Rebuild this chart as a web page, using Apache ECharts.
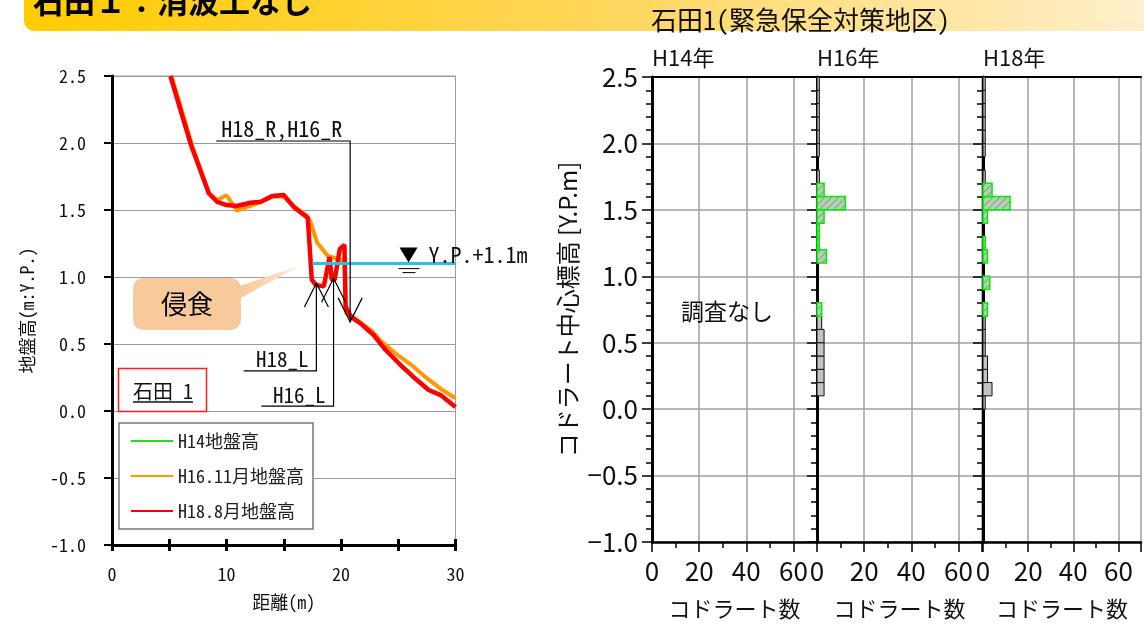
<!DOCTYPE html>
<html><head><meta charset="utf-8">
<script src="https://cdn.jsdelivr.net/npm/echarts@6/dist/echarts.min.js"></script>
<style>html,body{margin:0;padding:0;background:#fff}#c{width:1144px;height:627px}</style>
</head><body><div id="c"></div>
<script>
// ---------- DATA ----------
// Left chart: ground profile (distance m, elevation m Y.P.)
const distH14 = [];
const elevH14 = [];
const distH16 = [5.2, 7.0, 8.5, 9.2, 10.0, 10.9, 12.1, 13.0, 14.0, 15.0, 16.0, 17.0, 17.3, 17.9, 18.8, 19.5, 20.3, 20.45, 20.9, 21.7, 22.8, 23.4, 24.9, 26.2, 27.5, 28.8, 30.0];
const elevH16 = [2.50, 1.98, 1.62, 1.575, 1.61, 1.495, 1.53, 1.56, 1.60, 1.60, 1.52, 1.46, 1.42, 1.26, 1.16, 1.14, 1.12, 0.73, 0.71, 0.66, 0.59, 0.53, 0.42, 0.34, 0.245, 0.16, 0.095];
const distH18 = [5.1, 6.9, 8.45, 9.2, 10.0, 10.9, 12.1, 13.0, 14.0, 15.0, 15.9, 17.1, 17.45, 17.8, 18.5, 19.0, 19.2, 19.45, 19.9, 20.3, 20.4, 20.9, 21.7, 22.85, 23.9, 25.2, 26.3, 27.65, 28.7, 30.0];
const elevH18 = [2.50, 1.985, 1.625, 1.56, 1.537, 1.53, 1.554, 1.562, 1.604, 1.612, 1.52, 1.44, 0.98, 0.94, 0.93, 1.15, 0.98, 0.98, 1.21, 1.24, 0.78, 0.70, 0.654, 0.567, 0.455, 0.343, 0.256, 0.157, 0.119, 0.03];
const waterX = [17.5, 30];
const waterLevel = 1.1;
const profileNames = ['H14地盤高', 'H16.11月地盤高', 'H18.8月地盤高'];

// Right chart: quadrat counts per 0.1 m elevation bin (bin bottom)
const binBottom = [0.0,0.1,0.2,0.3,0.4,0.5,0.6,0.7,0.8,0.9,1.0,1.1,1.2,1.3,1.4,1.5,1.6,1.7,1.8,1.9,2.0,2.1,2.2,2.3,2.4];
const h16Bare = [0,3,3,3,3,3,2,0,0,0,0,0,0,0,0,0,0,1,0,1,1,1,1,1,1];
const h16Veg  = [0,0,0,0,0,0,0,2,0,0,0,4,1,1,3,12,3,0,0,0,0,0,0,0,0];
const h18Bare = [1,4,2,2,1,1,1,0,0,0,0,0,0,0,0,0,0,1,0,1,1,1,1,1,1];
const h18Veg  = [0,0,0,0,0,0,0,2,0,3,0,2,1,0,2,12,4,0,0,0,0,0,0,0,0];
const panelTitles = ['H14年', 'H16年', 'H18年'];
const xTickLabels = [0, 20, 40, 60];

// ---------- STYLE ----------
const MONO = "'Noto Sans Mono CJK JP','DejaVu Sans Mono',monospace";
const CJK = "'Noto Sans CJK JP','Noto Sans',sans-serif";
const NARROW = "'Liberation Sans Narrow','Noto Sans CJK JP',sans-serif";

const chart = echarts.init(document.getElementById('c'), null, {renderer: 'canvas'});

function hatch() {
  const c = document.createElement('canvas');
  c.width = 7; c.height = 7;
  const g = c.getContext('2d');
  g.fillStyle = '#c3c3c3'; g.fillRect(0, 0, 7, 7);
  g.strokeStyle = '#1fd31f'; g.lineWidth = 1;
  g.beginPath();
  g.moveTo(0, 7); g.lineTo(7, 0);
  g.moveTo(-1, 1); g.lineTo(1, -1);
  g.moveTo(6, 8); g.lineTo(8, 6);
  g.stroke();
  return c;
}
const hatchCanvas = hatch();

function bins(counts) {
  const out = [];
  counts.forEach((v, i) => { if (v > 0) out.push([v, binBottom[i]]); });
  return out;
}
function histSeries(name, counts, xi, yi, veg) {
  return {
    type: 'custom', name: name, xAxisIndex: xi, yAxisIndex: yi, z: 5,
    data: bins(counts),
    renderItem: function (params, api) {
      const c = api.value(0), b = api.value(1);
      const p0 = api.coord([0, b + 0.1]);
      const p1 = api.coord([c, b]);
      return {
        type: 'rect',
        shape: {x: p0[0], y: p0[1], width: p1[0] - p0[0], height: p1[1] - p0[1]},
        style: veg ? {fill: {image: hatchCanvas, repeat: 'repeat'}, stroke: '#00ee00', lineWidth: 1.5}
                   : {fill: '#c3c3c3', stroke: '#111', lineWidth: 1}
      };
    }
  };
}

const panelLefts = [652, 817, 983];
const grids = [{left: 112, top: 76, width: 343.5, height: 469, show: true, borderColor: '#9a9a9a', borderWidth: 1}];
panelLefts.forEach(l => grids.push({left: l, top: 77, width: 165, height: 465}));

const xAxes = [
  {gridIndex: 0, type: 'value', min: 0, max: 30, interval: 5, position: 'bottom',
   axisLine: {onZero: false, lineStyle: {color: '#000', width: 3}},
   axisTick: {length: 6, lineStyle: {color: '#000', width: 3}},
   axisLabel: {margin: 20, fontSize: 18, fontFamily: MONO, color: '#111', formatter: v => (v % 10 === 0 ? String(v) : '')},
   splitLine: {show: false},
   name: '距離(m)', nameLocation: 'middle', nameGap: 48, nameTextStyle: {fontSize: 18, fontFamily: MONO, color: '#111'}},
  {gridIndex: 0, type: 'value', min: 0, max: 30, interval: 5, position: 'bottom',
   axisLine: {show: false, onZero: false}, axisTick: {inside: true, length: 6, lineStyle: {color: '#000', width: 3}},
   axisLabel: {show: false}, splitLine: {show: false}}
];
const yAxes = [
  {gridIndex: 0, type: 'value', min: -1, max: 2.5, interval: 0.5,
   axisLine: {show: true, onZero: false, lineStyle: {color: '#000', width: 3}},
   axisTick: {show: true, length: 8, lineStyle: {color: '#000', width: 2}},
   axisLabel: {margin: 26, fontSize: 18, fontFamily: MONO, color: '#111', formatter: v => v.toFixed(1)},
   splitLine: {lineStyle: {color: '#9a9a9a', width: 1}},
   name: '地盤高(m:Y.P.)', nameLocation: 'middle', nameGap: 76, nameRotate: 90,
   nameTextStyle: {fontSize: 18, fontFamily: MONO, color: '#111'}}
];
panelLefts.forEach((l, i) => {
  const g = i + 1;
  xAxes.push({gridIndex: g, type: 'value', min: 0, max: 70, interval: 20, position: 'bottom',
    axisLine: {onZero: false, lineStyle: {color: '#000', width: 2.5}},
    axisTick: {length: 10, lineStyle: {color: '#000', width: 1.5}},
    axisLabel: {margin: 16, fontSize: 26, fontFamily: NARROW, color: '#111',
      formatter: v => (xTickLabels.indexOf(v) >= 0 ? String(v) : '')},
    splitLine: {show: true, lineStyle: {color: '#a0a0a0', width: 1.5}},
    name: 'コドラート数', nameLocation: 'middle', nameGap: 56,
    nameTextStyle: {fontSize: 22, fontFamily: CJK, color: '#111'}});
  xAxes.push({gridIndex: g, type: 'value', min: 0, max: 70, interval: 10, position: 'bottom',
    axisLine: {show: false, onZero: false}, axisTick: {length: 6, lineStyle: {color: '#000', width: 1.5}},
    axisLabel: {show: false}, splitLine: {show: false}});
  xAxes.push({gridIndex: g, type: 'value', min: 0, max: 70, interval: 20, position: 'top',
    axisLine: {onZero: false, lineStyle: {color: '#000', width: 2}}, axisTick: {show: false},
    axisLabel: {show: false}, splitLine: {show: false}});
  yAxes.push({gridIndex: g, type: 'value', min: -1, max: 2.5, interval: 0.5,
    axisLine: {show: true, onZero: false, lineStyle: {color: '#000', width: 3}},
    axisTick: {show: true, length: 10, lineStyle: {color: '#000', width: 1.5}},
    minorTick: {show: true, splitNumber: 5, length: 6, lineStyle: {color: '#000', width: 1.5}},
    axisLabel: {show: i === 0, margin: 14, fontSize: 26, fontFamily: NARROW, color: '#111',
      formatter: v => (v < 0 ? '\u2212' + Math.abs(v).toFixed(1) : v.toFixed(1))},
    splitLine: {lineStyle: {color: '#a0a0a0', width: 1.5}},
    name: i === 0 ? 'コドラート中心標高 [Y.P.m]' : '', nameLocation: 'middle', nameGap: 72, nameRotate: 90,
    nameTextStyle: {fontSize: 24, fontFamily: CJK, color: '#111'}});
});

const zip = (a, b) => a.map((v, i) => [v, b[i]]);
const series = [
  {type: 'line', name: profileNames[0], xAxisIndex: 0, yAxisIndex: 0, data: zip(distH14, elevH14),
   symbol: 'none', lineStyle: {color: '#22dd22', width: 4}, itemStyle: {color: '#22dd22'}, z: 3},
  {type: 'line', name: profileNames[1], xAxisIndex: 0, yAxisIndex: 0, data: zip(distH16, elevH16),
   symbol: 'none', lineStyle: {color: '#ff9900', width: 4}, itemStyle: {color: '#ff9900'}, z: 4},
  {type: 'line', name: profileNames[2], xAxisIndex: 0, yAxisIndex: 0, data: zip(distH18, elevH18),
   symbol: 'none', lineStyle: {color: '#ff0000', width: 4.5}, itemStyle: {color: '#ff0000'}, z: 5},
  {type: 'line', name: 'water', xAxisIndex: 0, yAxisIndex: 0, data: waterX.map(x => [x, waterLevel]),
   symbol: 'none', lineStyle: {color: '#22c4ee', width: 3}, z: 6, silent: true},
  histSeries('H16裸地', h16Bare, 5, 2, false),
  histSeries('H16植生', h16Veg, 5, 2, true),
  histSeries('H18裸地', h18Bare, 8, 3, false),
  histSeries('H18植生', h18Veg, 8, 3, true)
];

chart.setOption({
  animation: false,
  backgroundColor: '#fff',
  textStyle: {fontFamily: CJK},
  grid: grids, xAxis: xAxes, yAxis: yAxes, series: series,
  legend: {data: profileNames, orient: 'vertical', left: 119, top: 423, icon: 'rect',
    backgroundColor: '#fff', borderColor: '#7a7a7a', borderWidth: 1.5, borderRadius: 0,
    padding: [9, 9, 9, 12], itemWidth: 42, itemHeight: 2, itemGap: 17,
    textStyle: {fontSize: 18, fontFamily: MONO, color: '#222'}}
});

// ---------- annotations ----------
const P = (x, y) => chart.convertToPixel({xAxisIndex: 0, yAxisIndex: 0}, [x, y]);
const annots = [
  {text: 'H18_R,H16_R', x0: 9.1, x: 20.8, y: 2.015, tip: 0.665, down: true},
  {text: 'H18_L', x0: 11.5, x: 17.85, y: 0.30, tip: 0.955, down: false},
  {text: 'H16_L', x0: 13.05, x: 19.35, y: 0.037, tip: 0.99, down: false}
];
const g = [];
// banner
g.push({type: 'rect', shape: {x: 24, y: -12, width: 1140, height: 43, r: [0, 0, 0, 10]}, z: 0,
  style: {fill: new echarts.graphic.LinearGradient(0, 0, 1, 0, [
    {offset: 0, color: '#ffcc00'}, {offset: 0.5, color: '#ffd65a'}, {offset: 1, color: '#fff0d0'}])}});
g.push({type: 'text', x: 33, y: 17, z: 2, style: {text: '石田１：消波工なし', fontSize: 31, fontWeight: 'bold',
  fontFamily: CJK, fill: '#000', textVerticalAlign: 'bottom'}});
g.push({type: 'text', x: 651, y: 20, z: 2, style: {text: '石田1(緊急保全対策地区)', fontSize: 26,
  fontFamily: MONO, fill: '#111', textVerticalAlign: 'middle'}});
panelLefts.forEach((l, i) => g.push({type: 'text', x: l, y: 58, z: 2, style: {text: panelTitles[i], fontSize: 22,
  fontFamily: NARROW, fill: '#111', textVerticalAlign: 'middle'}}));
g.push({type: 'text', x: 727, y: 311, z: 2, style: {text: '調査なし', fontSize: 23, fontFamily: CJK, fill: '#111',
  textAlign: 'center', textVerticalAlign: 'middle'}});

annots.forEach(a => {
  const s = P(a.x0, a.y), e = P(a.x, a.y), t = P(a.x, a.tip);
  g.push({type: 'polyline', z: 20, shape: {points: [s, e, t]}, style: {stroke: '#000', lineWidth: 1.2, fill: null}});
  const dy = a.down ? -24 : 24;
  g.push({type: 'polyline', z: 20, shape: {points: [[t[0] - 12, t[1] + dy], t, [t[0] + 12, t[1] + dy]]},
    style: {stroke: '#000', lineWidth: 1.2, fill: null}});
  if (a.down) {
    g.push({type: 'text', x: s[0] + 5, y: s[1] - 1, z: 20, style: {text: a.text, fontSize: 22, fontFamily: MONO,
      fill: '#111', textVerticalAlign: 'bottom'}});
  } else {
    g.push({type: 'text', x: e[0] - 8, y: e[1] - 1, z: 20, style: {text: a.text, fontSize: 21, fontFamily: MONO,
      fill: '#111', textAlign: 'right', textVerticalAlign: 'bottom'}});
  }
});

// erosion callout
const tipE = P(16.3, 1.08);
g.push({type: 'polygon', z: 19, shape: {points: [[239, 286], [239, 299], tipE]},
  style: {fill: new echarts.graphic.LinearGradient(0, 0, 1, 0, [{offset: 0, color: '#f8c99b'}, {offset: 1, color: '#fde6d2'}])}});
g.push({type: 'rect', z: 19, shape: {x: 133, y: 278, width: 108, height: 52, r: 10}, style: {fill: '#f8c99b'}});
g.push({type: 'text', x: 187, y: 304, z: 20, style: {text: '侵食', fontSize: 26, fontFamily: CJK, fill: '#000',
  textAlign: 'center', textVerticalAlign: 'middle'}});

// site label box
g.push({type: 'rect', z: 19, shape: {x: 118.5, y: 368.5, width: 88, height: 43}, style: {fill: '#fff', stroke: '#ff1a1a', lineWidth: 1.5}});
g.push({type: 'text', x: 133, y: 391, z: 20, style: {text: '石田 1', fontSize: 20, fontFamily: MONO, fill: '#111', textVerticalAlign: 'middle'}});
g.push({type: 'line', z: 20, shape: {x1: 133, y1: 402, x2: 193, y2: 402}, style: {stroke: '#111', lineWidth: 1.5}});

// water level symbol
const w = P(25.9, waterLevel);
g.push({type: 'polygon', z: 20, shape: {points: [[w[0] - 9, w[1] - 16], [w[0] + 9, w[1] - 16], [w[0], w[1] - 1]]}, style: {fill: '#000'}});
g.push({type: 'line', z: 20, shape: {x1: w[0] - 10, y1: w[1] + 5, x2: w[0] + 11, y2: w[1] + 5}, style: {stroke: '#000', lineWidth: 1}});
g.push({type: 'line', z: 20, shape: {x1: w[0] - 6, y1: w[1] + 9, x2: w[0] + 7, y2: w[1] + 9}, style: {stroke: '#000', lineWidth: 1}});
g.push({type: 'text', x: w[0] + 20, y: w[1] - 9, z: 20, style: {text: 'Y.P.+1.1m', fontSize: 22, fontFamily: MONO, fill: '#111', textVerticalAlign: 'middle'}});

chart.setOption({graphic: g});
</script></body></html>
